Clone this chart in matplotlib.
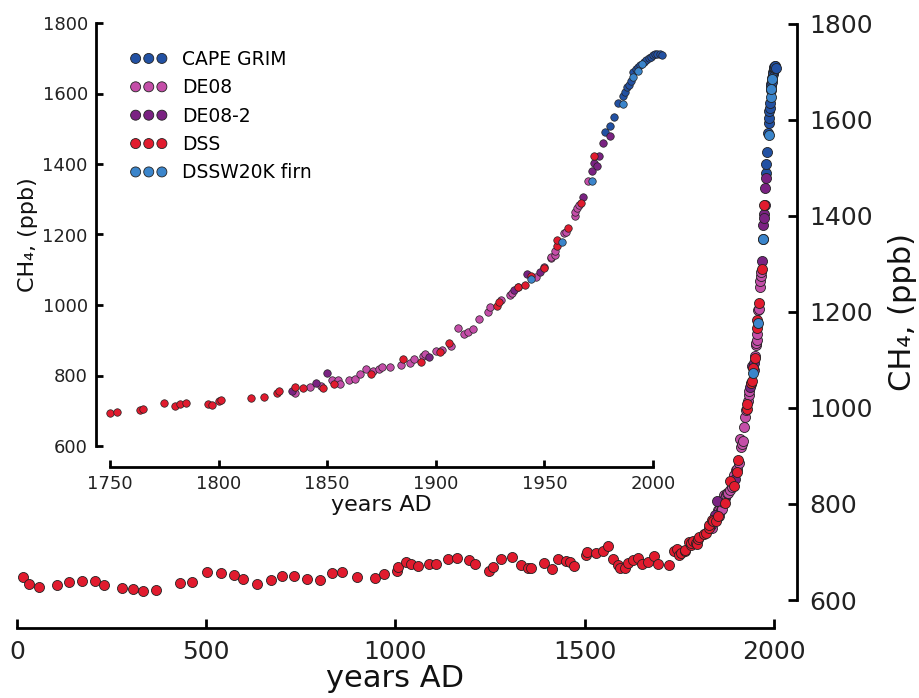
import numpy as np
import matplotlib
matplotlib.use("Agg")
import matplotlib.pyplot as plt

# Law Dome style CH4 records
dss_year = [15, 33, 59, 107, 138, 171, 206, 231, 277, 306, 332, 366, 431, 463,
            502, 539, 574, 598, 634, 671, 700, 731, 767, 800, 831, 859, 899, 946,
            970, 1005, 1007, 1028, 1041, 1060, 1088, 1107, 1138, 1162, 1195, 1210,
            1248, 1258, 1278, 1308, 1331, 1349, 1357, 1392, 1413, 1430, 1450, 1461,
            1472, 1502, 1505, 1530, 1547, 1562, 1574, 1589, 1593, 1606, 1615, 1628,
            1641, 1650, 1668, 1683, 1694, 1723, 1737, 1745,
            1750, 1753, 1764, 1765, 1775, 1780, 1782, 1785, 1795, 1797, 1800, 1801,
            1815, 1821, 1827, 1828, 1835, 1839, 1848, 1853, 1870, 1885, 1893, 1902,
            1906, 1928, 1929, 1938, 1941, 1944, 1950, 1956, 1956, 1961, 1967, 1973]
dss_ch4 = [647, 633, 628, 631, 638, 640, 640, 631, 626, 623, 619, 620, 635, 638,
           659, 657, 652, 644, 633, 642, 649, 649, 643, 642, 657, 658, 647, 646,
           654, 661, 668, 680, 676, 671, 676, 676, 685, 688, 683, 676,
           660, 668, 685, 689, 673, 667, 667, 678, 664, 685, 681, 680,
           671, 694, 701, 697, 702, 713, 685, 673, 666, 667, 678, 683,
           687, 674, 680, 692, 676, 673, 703, 706,
           693, 697, 702, 705, 721, 714, 719, 723, 718, 717, 728, 731,
           737, 739, 751, 756, 767, 765, 764, 776, 803, 847, 837, 867,
           891, 997, 1008, 1052, 1057, 1083, 1104, 1167, 1184, 1219, 1290, 1423]

de08_year = [1835, 1842, 1847, 1852, 1855, 1856, 1860, 1863, 1865, 1868, 1871,
             1874, 1875, 1879, 1884, 1888, 1890, 1894, 1895, 1900, 1903, 1907,
             1910, 1913, 1915, 1917, 1920, 1924, 1925, 1930, 1934, 1935, 1938,
             1946, 1950, 1953, 1953, 1955, 1955, 1959, 1960, 1964, 1964, 1965,
             1966, 1970]
de08_ch4 = [750, 768, 770, 787, 787, 776, 787, 790, 805, 818, 813,
            818, 823, 823, 830, 835, 846, 856, 861, 870, 872, 885,
            936, 918, 924, 931, 960, 981, 995, 1014, 1028, 1035, 1050,
            1080, 1109, 1132, 1135, 1142, 1154, 1205, 1206, 1252, 1265, 1276,
            1284, 1353]

de082_year = [1834, 1845, 1850, 1897, 1936, 1942, 1948, 1968, 1972, 1973, 1974,
              1975, 1977, 1980]
de082_ch4 = [756, 778, 806, 852, 1043, 1087, 1094, 1307, 1381, 1404, 1395,
             1423, 1459, 1479]

firn_year = [1944, 1958, 1972, 1986, 1991, 1993, 1995]
firn_ch4 = [1073, 1178, 1353, 1569, 1648, 1664, 1685]

cg_year = [1978, 1980, 1982, 1984, 1986, 1987, 1988, 1989, 1990, 1991, 1992,
           1993, 1994, 1996, 1997, 1998, 1999, 2000, 2001, 2002, 2003, 2004]
cg_ch4 = [1490, 1509, 1534, 1572, 1594, 1605, 1619, 1625, 1635, 1662, 1670,
          1675, 1680, 1688, 1695, 1700, 1704, 1709, 1711, 1712, 1712, 1709]

series = [
    ("CAPE GRIM", cg_year, cg_ch4, "#2251a3"),
    ("DE08", de08_year, de08_ch4, "#c44ea8"),
    ("DE08-2", de082_year, de082_ch4, "#7a2282"),
    ("DSS", dss_year, dss_ch4, "#e11b2e"),
    ("DSSW20K firn", firn_year, firn_ch4, "#3b85cb"),
]

W, H = 920, 698
fig = plt.figure(figsize=(W / 100, H / 100), dpi=100)

# main axes (full record)
ax = fig.add_axes([17 / W, 1 - 600 / H, 757 / W, 576 / H])
# inset axes (last 250 years)
ax_in = fig.add_axes([110 / W, 1 - 446 / H, 543 / W, 423 / H])
ax_in.set_facecolor("none")

handles = []
for name, yr, ch4, col in series:
    h = ax.scatter(yr, ch4, s=52, c=col, edgecolors="#222222", linewidths=0.6,
                   clip_on=False, label=name, zorder=3)
    handles.append(h)
    yr = np.array(yr)
    ch4 = np.array(ch4)
    keep = yr >= 1750
    ax_in.scatter(yr[keep], ch4[keep], s=29, c=col, edgecolors="#222222",
                  linewidths=0.5, clip_on=False, zorder=3)

# main axes styling
ax.set_xlim(0, 2000)
ax.set_ylim(600, 1800)
ax.spines["top"].set_visible(False)
ax.spines["left"].set_visible(False)
ax.spines["right"].set_position(("outward", 16.5))
ax.spines["bottom"].set_position(("outward", 20))
ax.spines["right"].set_bounds(600, 1800)
ax.spines["bottom"].set_bounds(0, 2000)
for sp in ("right", "bottom"):
    ax.spines[sp].set_linewidth(2)
ax.yaxis.tick_right()
ax.yaxis.set_label_position("right")
ax.set_xticks([0, 500, 1000, 1500, 2000])
ax.set_yticks(np.arange(600, 1801, 200))
ax.tick_params(direction="in", length=6.5, width=2, labelsize=18, pad=9,
               colors="black", labelcolor="#222222")
ax.set_xlabel("years AD", fontsize=22, labelpad=0, color="#111111")
ax.set_ylabel("CH\u2084, (ppb)", fontsize=22, labelpad=11, color="#111111")

# inset styling
ax_in.set_xlim(1750, 2000)
ax_in.set_ylim(600, 1800)
ax_in.spines["top"].set_visible(False)
ax_in.spines["right"].set_visible(False)
ax_in.spines["left"].set_position(("outward", 10))
ax_in.spines["bottom"].set_position(("outward", 15))
ax_in.spines["left"].set_bounds(600, 1800)
ax_in.spines["bottom"].set_bounds(1750, 2000)
for sp in ("left", "bottom"):
    ax_in.spines[sp].set_linewidth(2)
ax_in.set_xticks([1750, 1800, 1850, 1900, 1950, 2000])
ax_in.set_yticks(np.arange(600, 1801, 200))
ax_in.tick_params(direction="in", length=5, width=2, labelsize=13, pad=6,
                  labelcolor="#222222")
ax_in.set_xlabel("years AD", fontsize=16, labelpad=1, color="#111111")
ax_in.set_ylabel("CH\u2084, (ppb)", fontsize=16, labelpad=3, color="#111111")

fig.legend(handles=handles, loc="upper left",
           bbox_to_anchor=(130 / W, 1 - 50 / H), frameon=False,
           scatterpoints=3, scatteryoffsets=[0.5], fontsize=13.5, borderpad=0,
           handlelength=2.0, handletextpad=0.8, labelspacing=0.5,
           borderaxespad=0)

fig.savefig("out.png", dpi=100)
